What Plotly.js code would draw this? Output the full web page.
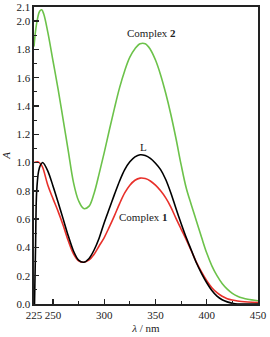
<!DOCTYPE html>
<html>
<head>
<meta charset="utf-8">
<script src="https://cdn.plot.ly/plotly-3.0.1.min.js"></script>
<style>html,body{margin:0;padding:0;background:#fff;}#chart{width:270px;height:337px;}</style>
</head>
<body>
<div id="chart"></div>
<script>
// Ligand L (black)
const wlL = [232, 233, 234, 236, 238, 240, 245, 250, 255, 260, 265, 270, 275, 280, 285, 290, 295, 300, 305, 310, 315, 320, 325, 330, 335, 340, 345, 350, 355, 360, 365, 370, 375, 380, 385, 390, 395, 400, 405, 410, 415, 420, 425, 430, 440, 450];
const absL = [0.0, 0.40, 0.78, 0.94, 0.985, 1.0, 0.94, 0.835, 0.72, 0.60, 0.48, 0.375, 0.31, 0.295, 0.32, 0.38, 0.465, 0.575, 0.675, 0.775, 0.87, 0.95, 1.005, 1.04, 1.055, 1.05, 1.03, 0.995, 0.95, 0.88, 0.785, 0.675, 0.57, 0.47, 0.38, 0.29, 0.215, 0.15, 0.095, 0.055, 0.03, 0.015, 0.005, 0.0, 0.0, 0.0];

// Complex 1 (red)
const wl1 = [231.5, 235, 238, 240, 245, 250, 255, 260, 265, 270, 275, 280, 285, 290, 295, 300, 305, 310, 315, 320, 325, 330, 335, 340, 345, 350, 355, 360, 365, 370, 375, 380, 385, 390, 395, 400, 405, 410, 415, 420, 425, 430, 440, 450];
const abs1 = [1.0, 1.006, 0.99, 0.965, 0.84, 0.745, 0.655, 0.555, 0.445, 0.355, 0.305, 0.295, 0.31, 0.35, 0.41, 0.47, 0.545, 0.625, 0.71, 0.785, 0.84, 0.875, 0.89, 0.887, 0.87, 0.84, 0.80, 0.75, 0.685, 0.605, 0.53, 0.455, 0.375, 0.295, 0.225, 0.165, 0.115, 0.08, 0.055, 0.038, 0.028, 0.021, 0.014, 0.01];

// Complex 2 (green)
const wl2 = [231.5, 233, 235, 237, 239, 241, 245, 250, 255, 260, 265, 270, 275, 280, 285, 290, 295, 300, 305, 310, 315, 320, 325, 330, 335, 340, 345, 350, 355, 360, 365, 370, 375, 380, 385, 390, 395, 400, 405, 410, 415, 420, 425, 430, 435, 440, 450];
const abs2 = [1.82, 1.93, 2.02, 2.07, 2.08, 2.05, 1.92, 1.72, 1.52, 1.30, 1.08, 0.86, 0.73, 0.675, 0.69, 0.78, 0.92, 1.07, 1.23, 1.385, 1.53, 1.65, 1.745, 1.805, 1.84, 1.84, 1.80, 1.725, 1.62, 1.49, 1.34, 1.17, 0.985, 0.82, 0.70, 0.585, 0.47, 0.36, 0.27, 0.20, 0.145, 0.105, 0.075, 0.055, 0.042, 0.033, 0.023];

const xTickVals = [231.5, 250, 300, 350, 400, 450];
const xTickText = ['225', '250', '300', '350', '400', '450'];
const yTickVals = [0, 0.2, 0.4, 0.6, 0.8, 1.0, 1.2, 1.4, 1.6, 1.8, 2.0, 2.1];
const yTickText = ['0.0', '0.2', '0.4', '0.6', '0.8', '1.0', '1.2', '1.4', '1.6', '1.8', '2.0', '2.1'];

const serif = 'Liberation Serif, Times New Roman, serif';
const lineW = 1.6;

const traces = [
  {x: wl2, y: abs2, mode: 'lines', line: {color: '#6cc24a', width: lineW, shape: 'spline', smoothing: 1}, hoverinfo: 'skip'},
  {x: wl1, y: abs1, mode: 'lines', line: {color: '#e8302a', width: lineW, shape: 'spline', smoothing: 1}, hoverinfo: 'skip'},
  {x: wlL, y: absL, mode: 'lines', line: {color: '#000000', width: lineW, shape: 'spline', smoothing: 0.8}, hoverinfo: 'skip'}
];

const layout = {
  width: 270, height: 337,
  margin: {l: 34, r: 12, t: 7, b: 33},
  paper_bgcolor: '#fff', plot_bgcolor: '#fff',
  showlegend: false,
  font: {family: serif, size: 11, color: '#222'},
  xaxis: {
    range: [231.5, 450], tickmode: 'array', tickvals: xTickVals, ticktext: xTickText, tickangle: 0,
    ticks: 'inside', ticklen: 5, tickwidth: 1.3, tickcolor: '#222',
    minor: {dtick: 25, tick0: 0, ticks: 'inside', ticklen: 3, tickwidth: 1, tickcolor: '#222'},
    showline: true, linecolor: '#222', linewidth: 1.6, mirror: true,
    showgrid: false, zeroline: false, automargin: false,
    tickfont: {family: serif, size: 11, color: '#222'},
    title: {text: '<i>λ</i> / nm', font: {family: serif, size: 11, color: '#222'}, standoff: 4}
  },
  yaxis: {
    range: [0, 2.1], tickmode: 'array', tickvals: yTickVals, ticktext: yTickText,
    ticks: 'inside', ticklen: 5, tickwidth: 1.3, tickcolor: '#222',
    minor: {dtick: 0.1, tick0: 0, ticks: 'inside', ticklen: 3, tickwidth: 1, tickcolor: '#222'},
    showline: true, linecolor: '#222', linewidth: 1.6, mirror: true,
    showgrid: false, zeroline: false, automargin: false,
    tickfont: {family: serif, size: 11, color: '#222'},
    title: {text: '<i>A</i>', font: {family: serif, size: 11, color: '#222'}, standoff: 4}
  },
  annotations: [
    {x: 346, y: 1.917, xref: 'x', yref: 'y', text: 'Complex <b>2</b>', showarrow: false, font: {family: serif, size: 11, color: '#222'}},
    {x: 338, y: 1.11, xref: 'x', yref: 'y', text: 'L', showarrow: false, font: {family: serif, size: 11, color: '#222'}},
    {x: 338, y: 0.615, xref: 'x', yref: 'y', text: 'Complex <b>1</b>', showarrow: false, font: {family: serif, size: 11, color: '#222'}}
  ]
};

Plotly.newPlot('chart', traces, layout, {staticPlot: true, displayModeBar: false});
</script>
</body>
</html>
